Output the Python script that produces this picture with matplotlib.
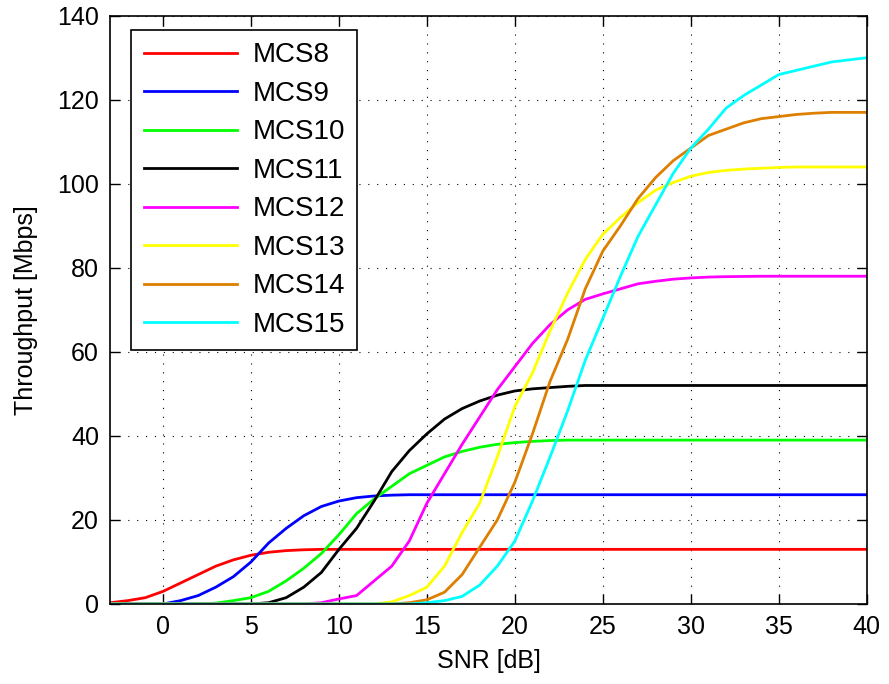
import numpy as np
import matplotlib
matplotlib.use("Agg")
import matplotlib.pyplot as plt

plt.rcParams['font.family'] = ['Liberation Sans', 'DejaVu Sans']

snr = np.arange(-3, 41)

# throughput [Mbps] read at each dB from -3 to 40
mcs8 = [0.3, 0.8, 1.5, 3, 5, 7, 9, 10.5, 11.6, 12.3, 12.7, 12.9, 13] + [13] * 31
mcs9 = [0, 0, 0, 0, 0.8, 2, 4, 6.5, 10, 14.5, 18, 21, 23.2, 24.5, 25.3, 25.7, 25.9] + [26] * 27
mcs10 = [0, 0, 0, 0, 0, 0, 0.2, 0.8, 1.5, 3, 5.5, 8.5, 12, 16.5, 21.5, 25, 28, 31, 33, 35,
         36.3, 37.3, 38, 38.4, 38.7, 38.9] + [39] * 18
mcs11 = [0] * 9 + [0.3, 1.5, 4, 7.5, 13, 18, 24.5, 31.5, 36.5, 40.5, 44, 46.5, 48.3, 49.7,
                   50.7, 51.2, 51.5, 51.8] + [52] * 17
mcs12 = [0] * 12 + [0.3, 1.2, 2, 5.5, 9, 15, 24, 31, 38, 44.5, 51, 56.5, 62, 66.5, 70, 72.5,
                    73.8, 75, 76.2, 76.8, 77.3, 77.6, 77.8, 77.9, 77.95] + [78] * 7
mcs13 = [0] * 16 + [0.5, 2, 4, 9, 17, 24, 35, 47, 55, 65, 74, 82, 88, 92, 95.5, 98.5, 100.3,
                    101.8, 102.7, 103.2, 103.5, 103.7, 103.9] + [104] * 5
mcs14 = [0] * 17 + [0.3, 1, 2.8, 7, 13.5, 20, 29, 40.5, 53, 63, 75, 84, 90, 96.5, 101.5, 105.5,
                    108.5, 111.5, 113, 114.5, 115.5, 116, 116.5, 116.8, 117, 117, 117]
mcs15 = [0] * 18 + [0.3, 0.8, 1.8, 4.5, 9, 15, 24.5, 35, 46, 58, 68, 78, 87.5, 95, 102.5, 108.5,
                    113, 118, 121, 123.5, 126, 127, 128, 129, 129.5, 130]

series = [mcs8, mcs9, mcs10, mcs11, mcs12, mcs13, mcs14, mcs15]
labels = ['MCS8', 'MCS9', 'MCS10', 'MCS11', 'MCS12', 'MCS13', 'MCS14', 'MCS15']
colors = ['#FF0000', '#0000FF', '#00FF00', '#000000', '#FF00FF', '#FFFF00', '#DD7F00', '#00FFFF']

fig = plt.figure(figsize=(8.89, 6.84), dpi=100)
ax = fig.add_axes([0.124, 0.117, 0.851, 0.860])

for y, lab, c in zip(series, labels, colors):
    ax.plot(snr, y, color=c, lw=2, label=lab)

ax.set_xlim(-3, 40)
ax.set_ylim(0, 140)
ax.set_xticks(range(0, 41, 5))
ax.set_yticks(range(0, 141, 20))
ax.grid(True, color='black', linestyle=(0, (1, 7)), linewidth=0.8)
ax.tick_params(direction='in', top=True, right=True, labelsize=18, length=7, width=1, pad=8)
for s in ax.spines.values():
    s.set_linewidth(1.2)
ax.set_xlabel('SNR [dB]', fontsize=18, labelpad=7)
ax.set_ylabel('Throughput [Mbps]', fontsize=18, labelpad=14)

leg = ax.legend(loc='upper left', fontsize=20, handlelength=3.35, labelspacing=0.45,
                borderpad=0.45, handletextpad=0.55, fancybox=False, framealpha=1,
                bbox_to_anchor=(0.028, 0.976), borderaxespad=0)
leg.get_frame().set_edgecolor('black')
leg.get_frame().set_linewidth(1.2)

fig.savefig('out.png', dpi=100)
